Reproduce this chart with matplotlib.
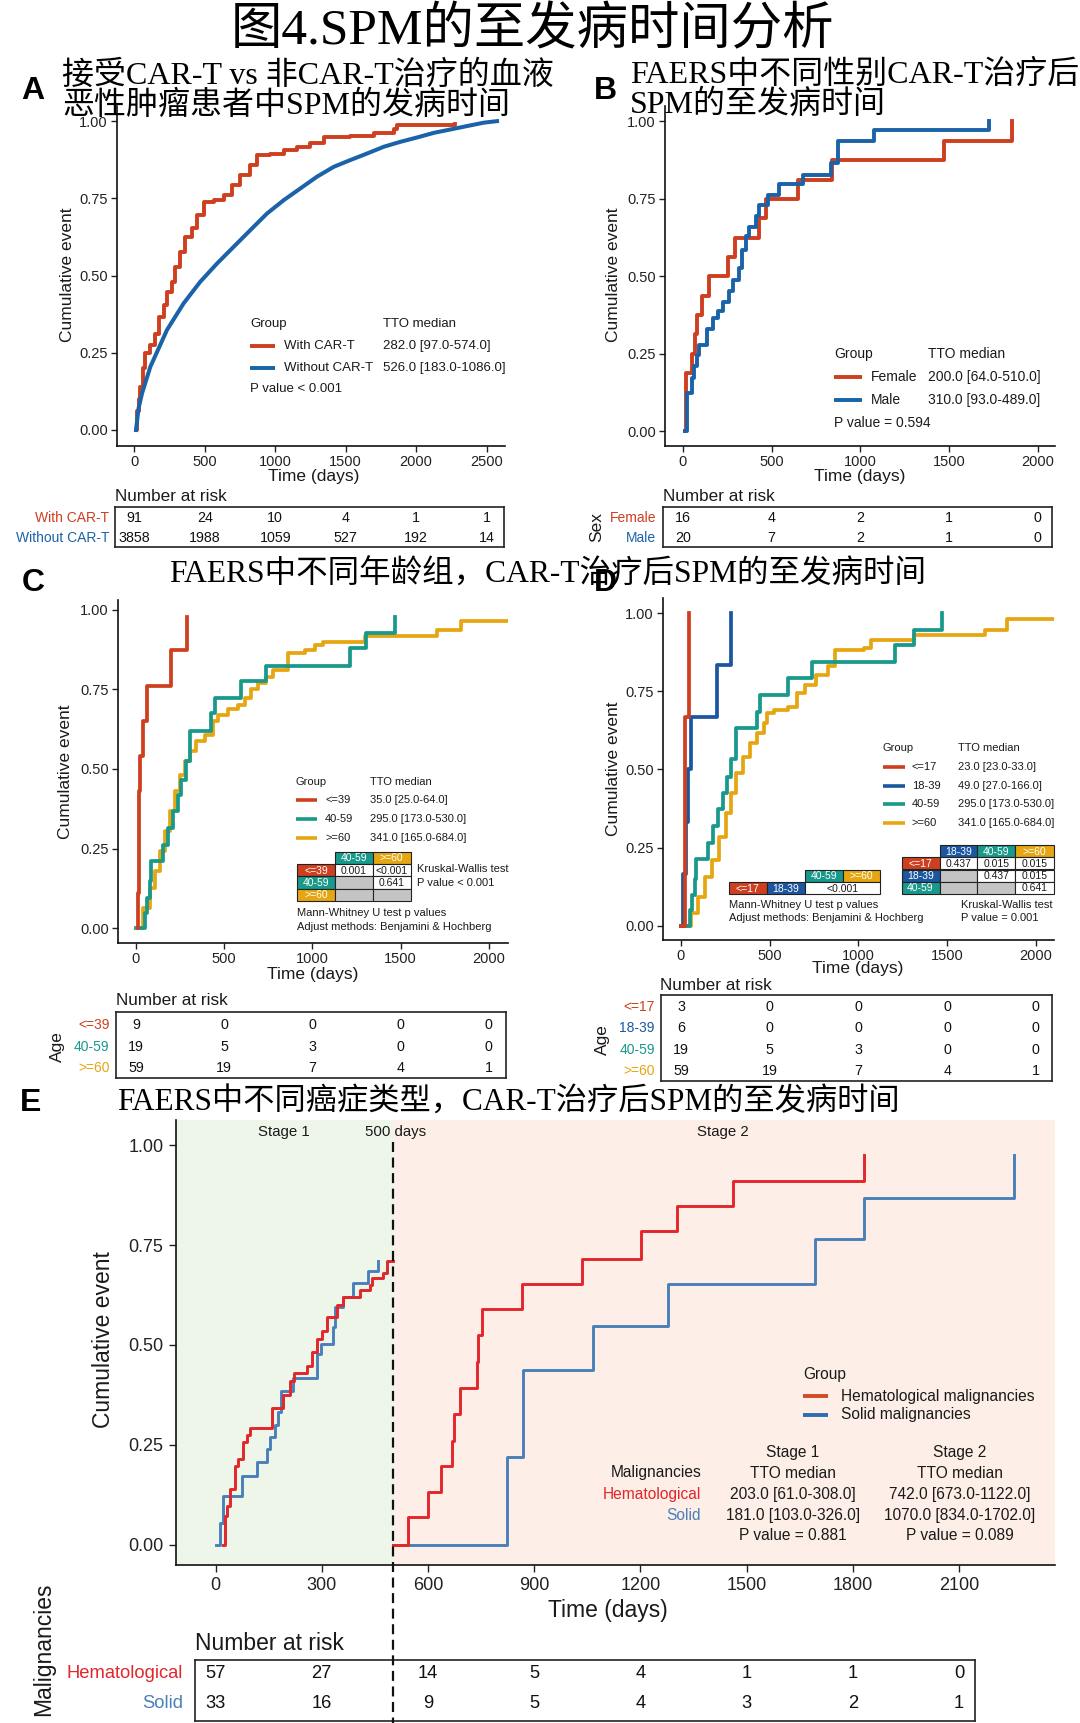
import matplotlib
matplotlib.use('Agg')
import matplotlib.pyplot as plt
from matplotlib.lines import Line2D
from matplotlib.patches import Rectangle
from matplotlib.transforms import blended_transform_factory

plt.rcParams['font.family'] = ['Liberation Sans', 'DejaVu Sans']
plt.rcParams['axes.linewidth'] = 1.2
CJK = ['Liberation Serif', 'Noto Sans CJK SC']

# ======================= DATA =======================
main_title = '图4.SPM的至发病时间分析'
title_a = ['接受CAR-T vs 非CAR-T治疗的血液', '恶性肿瘤患者中SPM的发病时间']
title_b = ['FAERS中不同性别CAR-T治疗后', 'SPM的至发病时间']
title_cd = 'FAERS中不同年龄组，CAR-T治疗后SPM的至发病时间'
title_e = 'FAERS中不同癌症类型，CAR-T治疗后SPM的至发病时间'

yticks = [0, 0.25, 0.5, 0.75, 1.0]

# Panel A
a_car_t = [12, 20, 30, 43, 60, 78, 114, 149, 173, 208, 232, 267, 291, 327, 362, 409, 445, 492, 563,
           634, 693, 752, 823, 871, 965, 1060, 1155, 1249, 1344, 1533, 1699, 1841, 1864, 2278]
a_car_v = [0, 0.06, 0.10, 0.14, 0.20, 0.25, 0.275, 0.31, 0.367, 0.405, 0.448, 0.48, 0.528, 0.577, 0.626,
           0.653, 0.696, 0.739, 0.744, 0.76, 0.793, 0.825, 0.858, 0.89, 0.895, 0.906, 0.917, 0.928,
           0.947, 0.951, 0.962, 0.976, 0.989, 0.99]
a_nocar_t = [12, 30, 55, 114, 232, 350, 468, 587, 705, 823, 942, 1060, 1178, 1296, 1415, 1533, 1651,
             1770, 1888, 2006, 2125, 2243, 2361, 2480, 2574]
a_nocar_v = [0, 0.07, 0.119, 0.205, 0.324, 0.41, 0.48, 0.539, 0.593, 0.647, 0.701, 0.744, 0.782, 0.82,
             0.852, 0.874, 0.895, 0.917, 0.933, 0.947, 0.962, 0.973, 0.984, 0.995, 1.0]
a_groups = ['With CAR-T', 'Without CAR-T']
a_medians = ['282.0 [97.0-574.0]', '526.0 [183.0-1086.0]']
a_pvalue = 'P value < 0.001'
a_xticks = [0, 500, 1000, 1500, 2000, 2500]
a_risk = [[91, 24, 10, 4, 1, 1], [3858, 1988, 1059, 527, 192, 14]]

# Panel B
b_female_t = [10, 15, 49, 69, 78, 108, 147, 255, 294, 431, 470, 647, 843, 1471, 1853]
b_female_v = [0, 0.1875, 0.25, 0.3125, 0.375, 0.4375, 0.5, 0.5625, 0.625, 0.6875, 0.75, 0.8125,
              0.875, 0.9375, 1.0]
b_male_t = [10, 20, 49, 63, 78, 92, 137, 167, 196, 225, 261, 284, 314, 333, 353, 373, 412, 431, 480,
            539, 676, 833, 873, 1078, 1725]
b_male_v = [0, 0.123, 0.17, 0.21, 0.245, 0.279, 0.331, 0.366, 0.389, 0.418, 0.452, 0.487, 0.527,
            0.585, 0.631, 0.66, 0.694, 0.729, 0.764, 0.798, 0.827, 0.867, 0.937, 0.971, 1.0]
b_groups = ['Female', 'Male']
b_medians = ['200.0 [64.0-510.0]', '310.0 [93.0-489.0]']
b_pvalue = 'P value = 0.594'
b_xticks = [0, 500, 1000, 1500, 2000]
b_risk = [[16, 4, 2, 1, 0], [20, 7, 2, 1, 0]]

# Panel C
c_le39_t = [10, 12, 18, 25, 38, 64, 200, 287]
c_le39_v = [0, 0.11, 0.43, 0.54, 0.65, 0.76, 0.875, 0.978]
c_4059_t = [2, 49, 64, 77, 87, 153, 181, 210, 238, 257, 285, 304, 427, 446, 597, 739, 1212, 1306, 1467]
c_4059_v = [0, 0.047, 0.094, 0.147, 0.21, 0.262, 0.314, 0.367, 0.419, 0.466, 0.524, 0.618, 0.676,
            0.723, 0.776, 0.823, 0.88, 0.928, 0.978]
c_ge60_t = [21, 40, 77, 106, 134, 163, 191, 219, 248, 276, 304, 342, 389, 437, 465, 522, 578, 616, 654,
            692, 739, 777, 862, 956, 1013, 1060, 1297, 1707, 1840, 2150]
c_ge60_v = [0, 0.063, 0.126, 0.178, 0.241, 0.304, 0.367, 0.43, 0.482, 0.524, 0.556, 0.587, 0.608, 0.65,
            0.671, 0.687, 0.702, 0.723, 0.75, 0.77, 0.79, 0.812, 0.865, 0.875, 0.89, 0.9, 0.917, 0.938,
            0.964, 0.964]
c_groups = ['<=39', '40-59', '>=60']
c_medians = ['35.0 [25.0-64.0]', '295.0 [173.0-530.0]', '341.0 [165.0-684.0]']
c_kw = ['Kruskal-Wallis test', 'P value < 0.001']
c_mw_cols = ['40-59', '>=60']
c_mw_rows = ['<=39', '40-59', '>=60']
c_mw_vals = [['0.001', '<0.001'], [None, '0.641'], [None, None]]
cd_xticks = [0, 500, 1000, 1500, 2000]
c_risk = [[9, 0, 0, 0, 0], [19, 5, 3, 0, 0], [59, 19, 7, 4, 1]]

# Panel D
d_le17_t = [0, 21, 43]
d_le17_v = [0, 0.667, 1.0]
d_1839_t = [0, 10, 27, 39, 58, 204, 282]
d_1839_v = [0, 0.167, 0.333, 0.5, 0.667, 0.833, 1.0]
d_4059_t = [2, 49, 64, 77, 87, 153, 181, 210, 238, 257, 285, 311, 428, 447, 603, 739, 1206, 1313, 1469]
d_4059_v = [0, 0.05, 0.1, 0.15, 0.213, 0.266, 0.32, 0.373, 0.426, 0.476, 0.532, 0.632, 0.685, 0.739,
            0.792, 0.845, 0.899, 0.947, 1.0]
d_ge60_t = [25, 58, 97, 136, 175, 214, 253, 282, 311, 350, 389, 428, 467, 486, 525, 603, 652, 700, 759,
            827, 866, 1031, 1070, 1313, 1712, 1838, 2150]
d_ge60_v = [0, 0.04, 0.093, 0.157, 0.21, 0.285, 0.36, 0.424, 0.488, 0.541, 0.584, 0.616, 0.648, 0.68,
            0.69, 0.701, 0.744, 0.771, 0.803, 0.83, 0.883, 0.888, 0.915, 0.93, 0.947, 0.981, 0.981]
d_groups = ['<=17', '18-39', '40-59', '>=60']
d_medians = ['23.0 [23.0-33.0]', '49.0 [27.0-166.0]', '295.0 [173.0-530.0]', '341.0 [165.0-684.0]']
d_kw = ['Kruskal-Wallis test', 'P value = 0.001']
d_mw_cols = ['18-39', '40-59', '>=60']
d_mw_rows = ['<=17', '18-39', '40-59']
d_mw_vals = [['0.437', '0.015', '0.015'], [None, '0.437', '0.015'], [None, None, '0.641']]
d_comb_val = '<0.001'
d_risk = [[3, 0, 0, 0, 0], [6, 0, 0, 0, 0], [19, 5, 3, 0, 0], [59, 19, 7, 4, 1]]
mw_note = ['Mann-Whitney U test p values', 'Adjust methods: Benjamini & Hochberg']

# Panel E
e_cut = 500
e_hem1_t = [20, 26, 31, 41, 55, 64, 78, 88, 97, 158, 191, 210, 220, 257, 271, 286, 300, 314, 342, 361,
            408, 436, 441, 474, 485, 500]
e_hem1_v = [0, 0.072, 0.097, 0.139, 0.198, 0.215, 0.257, 0.274, 0.291, 0.342, 0.375, 0.409, 0.43, 0.447,
            0.481, 0.515, 0.536, 0.57, 0.6, 0.62, 0.638, 0.65, 0.667, 0.68, 0.71, 0.71]
e_sol1_t = [2, 13, 22, 74, 116, 144, 153, 167, 177, 186, 219, 285, 299, 332, 337, 361, 389, 431, 459]
e_sol1_v = [0, 0.055, 0.122, 0.173, 0.207, 0.24, 0.27, 0.3, 0.333, 0.384, 0.418, 0.477, 0.502, 0.544,
            0.595, 0.62, 0.654, 0.684, 0.71]
e_hem2_t = [500, 543, 599, 637, 668, 672, 690, 737, 742, 753, 866, 1036, 1202, 1304, 1462, 1831]
e_hem2_v = [0, 0.068, 0.131, 0.198, 0.26, 0.326, 0.392, 0.456, 0.524, 0.589, 0.653, 0.716, 0.785, 0.848,
            0.911, 0.975]
e_sol2_t = [500, 823, 867, 1067, 1278, 1693, 1831, 2255]
e_sol2_v = [0, 0.22, 0.437, 0.547, 0.653, 0.764, 0.868, 0.975]
e_groups = ['Hematological malignancies', 'Solid malignancies']
e_rows = ['Hematological', 'Solid']
e_stage1 = ['203.0 [61.0-308.0]', '181.0 [103.0-326.0]', 'P value = 0.881']
e_stage2 = ['742.0 [673.0-1122.0]', '1070.0 [834.0-1702.0]', 'P value = 0.089']
e_xticks = [0, 300, 600, 900, 1200, 1500, 1800, 2100]
e_risk = [[57, 27, 14, 5, 4, 1, 1, 0], [33, 16, 9, 5, 4, 3, 2, 1]]

# ======================= STYLE =======================
RED = '#CD3F1E'
BLUE = '#1B63A8'
TEAL = '#18998A'
YEL = '#E6A612'
DBLUE = '#1C56A0'
ERED = '#E2262B'
EBLUE = '#4A80BA'
GREEN_BG = '#EEF6EA'
SALMON_BG = '#FDEFE7'
TXT = '#1a1a1a'

W, H = 1080, 1723
fig = plt.figure(figsize=(W / 100, H / 100), dpi=100)
fig.patch.set_facecolor('white')


def fx(x):
    return x / W


def fy(y):
    return 1 - y / H


def add_ax(x0, y0, x1, y1):
    return fig.add_axes([fx(x0), fy(y1), (x1 - x0) / W, (y1 - y0) / H])


def T(x, y, s, size, ha='left', va='center', color=TXT, **kw):
    return fig.text(fx(x), fy(y), s, fontsize=size, ha=ha, va=va, color=color, **kw)


def key_line(x0, x1, y, color, lw=2.8):
    fig.add_artist(Line2D([fx(x0), fx(x1)], [fy(y), fy(y)], color=color, lw=lw,
                          transform=fig.transFigure, solid_capstyle='butt'))


def cell(x0, y0, x1, y1, fc, text='', tc='white', fs=7.5):
    fig.add_artist(Rectangle((fx(x0), fy(y1)), (x1 - x0) / W, (y1 - y0) / H,
                             transform=fig.transFigure, facecolor=fc, edgecolor='#222222', lw=0.8))
    if text:
        T((x0 + x1) / 2, (y0 + y1) / 2 + 0.5, text, fs, ha='center', color=tc)


def make_axes(box, xlim, ylim, xticks, fs, tick_len=4, pad=2.5):
    ax = add_ax(*box)
    ax.set_xlim(xlim)
    ax.set_ylim(ylim)
    ax.set_xticks(xticks)
    ax.set_xticklabels([str(t) for t in xticks])
    ax.set_yticks(yticks)
    ax.set_yticklabels([f'{v:.2f}' for v in yticks])
    ax.spines['top'].set_visible(False)
    ax.spines['right'].set_visible(False)
    for s in ('left', 'bottom'):
        ax.spines[s].set_color('#111111')
    ax.tick_params(length=tick_len, width=1.0, labelsize=fs, pad=pad, labelcolor='#222222',
                   color='#222222')
    ax.patch.set_visible(False)
    return ax


def risk_table(box, xlim, ticks, rows, row_ys, fs):
    ax = add_ax(*box)
    ax.set_xlim(xlim)
    ax.set_ylim(box[3], box[1])
    ax.set_xticks([])
    ax.set_yticks([])
    for s in ax.spines.values():
        s.set_linewidth(1.2)
        s.set_color('#222222')
    for vals, y in zip(rows, row_ys):
        for t, n in zip(ticks, vals):
            ax.text(t, y, str(n), ha='center', va='center', fontsize=fs, color='#111111')
    ax.patch.set_visible(False)
    return ax


# ======================= TITLES =======================
T(532, 31, main_title, 37, ha='center', family=CJK, color='black')
for i, line in enumerate(title_a):
    T(62, 76 + 30 * i, line, 23, family=CJK, color='black')
for i, line in enumerate(title_b):
    T(630, 75 + 30 * i, line, 23, family=CJK, color='black')
T(548, 575, title_cd, 22.7, ha='center', family=CJK, color='black')
T(117, 1103, title_e, 22.5, ha='left', family=CJK, color='black')
for lab, (x, y) in zip('ABCDE', [(33, 91), (605, 91), (33, 583), (605, 583), (31, 1103)]):
    T(x, y, lab, 23, ha='center', weight='bold', color='black')

# ======================= PANEL A =======================
axA = make_axes((117, 106, 504.5, 446), (-123, 2627), (-0.052, 1.049), a_xticks, 10.5)
axA.step(a_car_t, a_car_v, where='post', color=RED, lw=2.8)
axA.plot(a_nocar_t, a_nocar_v, color=BLUE, lw=2.9)
T(67, 275, 'Cumulative event', 12.5, ha='center', rotation=90)
T(314, 477, 'Time (days)', 12.5, ha='center')
T(250, 324, 'Group', 9.5)
T(383, 324, 'TTO median', 9.5)
for i, (g, m, c) in enumerate(zip(a_groups, a_medians, [RED, BLUE])):
    y = 346 + 22 * i
    key_line(250, 275, y, c)
    T(284, y, g, 9.5)
    T(383, y, m, 9.5)
T(250, 389, a_pvalue, 9.5)
T(115, 496, 'Number at risk', 12.3)
risk_table((115, 507, 504, 547), (-137, 2624), a_xticks, a_risk, [518, 538], 10.3)
for g, c, y in zip(a_groups, [RED, BLUE], [518, 538]):
    T(109.5, y, g, 10, ha='right', color=c)

# ======================= PANEL B =======================
axB = make_axes((664.7, 106, 1054.8, 446), (-103, 2097), (-0.048, 1.05), b_xticks, 10.5)
axB.step(b_female_t, b_female_v, where='post', color=RED, lw=2.8)
axB.step(b_male_t, b_male_v, where='post', color=BLUE, lw=2.8)
T(614, 275, 'Cumulative event', 12.5, ha='center', rotation=90)
T(860, 477, 'Time (days)', 12.5, ha='center')
T(834, 354, 'Group', 10)
T(928, 354, 'TTO median', 10)
for i, (g, m, c) in enumerate(zip(b_groups, b_medians, [RED, BLUE])):
    y = 377 + 23 * i
    key_line(834, 862, y, c)
    T(871, y, g, 10)
    T(928, y, m, 10)
T(834, 423, b_pvalue, 10)
T(663, 496, 'Number at risk', 12.3)
risk_table((663, 507, 1052, 547), (-113, 2082), b_xticks, b_risk, [518, 538], 10.3)
for g, c, y in zip(b_groups, [RED, BLUE], [518, 538]):
    T(656, y, g, 10, ha='right', color=c)
T(597, 527, 'Sex', 12.5, ha='center', rotation=90)

# ======================= PANEL C =======================
axC = make_axes((118, 600, 508, 943), (-102, 2109), (-0.047, 1.031), cd_xticks, 10.5)
axC.step(c_ge60_t, c_ge60_v, where='post', color=YEL, lw=2.7)
axC.step(c_4059_t, c_4059_v, where='post', color=TEAL, lw=2.7)
axC.step(c_le39_t, c_le39_v, where='post', color=RED, lw=2.7)
T(65, 772, 'Cumulative event', 12.5, ha='center', rotation=90)
T(313, 975, 'Time (days)', 12.5, ha='center')
T(296, 782, 'Group', 8)
T(370, 782, 'TTO median', 8)
for i, (g, m, c) in enumerate(zip(c_groups, c_medians, [RED, TEAL, YEL])):
    y = 800 + 19 * i
    key_line(296, 317.5, y, c, lw=2.6)
    T(325, y, g, 8)
    T(370, y, m, 8)
# pairwise matrix
c_colx = [297, 335, 372.6, 410.5]
c_rowy = [851.6, 863.9, 876.2, 888.5, 900.8]
c_col_colors = {'<=39': RED, '40-59': TEAL, '>=60': YEL}
for j, name in enumerate(c_mw_cols):
    cell(c_colx[j + 1], c_rowy[0], c_colx[j + 2], c_rowy[1], c_col_colors[name], name)
for i, name in enumerate(c_mw_rows):
    cell(c_colx[0], c_rowy[i + 1], c_colx[1], c_rowy[i + 2], c_col_colors[name], name)
    for j, val in enumerate(c_mw_vals[i]):
        if val is None:
            cell(c_colx[j + 1], c_rowy[i + 1], c_colx[j + 2], c_rowy[i + 2], '#C4C4C4')
        else:
            cell(c_colx[j + 1], c_rowy[i + 1], c_colx[j + 2], c_rowy[i + 2], 'white', val, tc=TXT)
T(417, 869, c_kw[0], 8)
T(417, 883, c_kw[1], 8)
T(297, 913, mw_note[0], 8)
T(297, 927, mw_note[1], 8)
T(116, 1001, 'Number at risk', 12.3)
risk_table((116, 1012, 505.5, 1078), (-113, 2094), cd_xticks, c_risk, [1025, 1047, 1068], 10.3)
for g, c, y in zip(c_groups, [RED, TEAL, YEL], [1025, 1047, 1068]):
    T(109.5, y, g, 10, ha='right', color=c)
T(57, 1047, 'Age', 12.5, ha='center', rotation=90)

# ======================= PANEL D =======================
axD = make_axes((663, 598, 1053.8, 940), (-101, 2102), (-0.045, 1.048), cd_xticks, 10.5)
axD.step(d_ge60_t, d_ge60_v, where='post', color=YEL, lw=2.7)
axD.step(d_4059_t, d_4059_v, where='post', color=TEAL, lw=2.7)
axD.step(d_1839_t, d_1839_v, where='post', color=DBLUE, lw=2.7)
axD.step(d_le17_t, d_le17_v, where='post', color=RED, lw=2.7)
T(614, 769, 'Cumulative event', 12.5, ha='center', rotation=90)
T(858, 968, 'Time (days)', 12.5, ha='center')
T(883, 748, 'Group', 8)
T(958, 748, 'TTO median', 8)
d_cols = {'<=17': RED, '18-39': DBLUE, '40-59': TEAL, '>=60': YEL}
for i, (g, m) in enumerate(zip(d_groups, d_medians)):
    y = 767 + 18.7 * i
    key_line(883, 905, y, d_cols[g], lw=2.6)
    T(912, y, g, 8)
    T(958, y, m, 8)
# combined comparison table
cell(805, 870, 843, 882, TEAL, '40-59')
cell(843, 870, 880, 882, YEL, '>=60')
cell(729, 882, 766.6, 894, RED, '<=17')
cell(766.6, 882, 805, 894, DBLUE, '18-39')
cell(805, 882, 880, 894, 'white', d_comb_val, tc=TXT)
# pairwise matrix
d_colx = [901.6, 939.5, 977.3, 1015.2, 1053.8]
d_rowy = [845, 857.2, 869.5, 881.8, 894]
for j, name in enumerate(d_mw_cols):
    cell(d_colx[j + 1], d_rowy[0], d_colx[j + 2], d_rowy[1], d_cols[name], name)
for i, name in enumerate(d_mw_rows):
    cell(d_colx[0], d_rowy[i + 1], d_colx[1], d_rowy[i + 2], d_cols[name], name)
    for j, val in enumerate(d_mw_vals[i]):
        if val is None:
            cell(d_colx[j + 1], d_rowy[i + 1], d_colx[j + 2], d_rowy[i + 2], '#C4C4C4')
        else:
            cell(d_colx[j + 1], d_rowy[i + 1], d_colx[j + 2], d_rowy[i + 2], 'white', val, tc=TXT)
T(729, 905, mw_note[0], 8)
T(729, 918, mw_note[1], 8)
T(961, 905, d_kw[0], 8)
T(961, 918, d_kw[1], 8)
T(660.5, 985, 'Number at risk', 12.3)
risk_table((660.5, 995, 1052, 1081), (-116, 2091), cd_xticks, d_risk, [1007, 1028, 1050, 1071], 10.3)
for g, y in zip(d_groups, [1007, 1028, 1050, 1071]):
    T(654.7, y, g, 10, ha='right', color=d_cols[g])
T(602, 1040, 'Age', 12.5, ha='center', rotation=90)

# ======================= PANEL E =======================
e_xlim = (-112, 2371)
axE = make_axes((176, 1120, 1055, 1565), e_xlim, (-0.051, 1.063), e_xticks, 13, tick_len=5, pad=4)
axE.axvspan(e_xlim[0], e_cut, color=GREEN_BG, zorder=0, lw=0)
axE.axvspan(e_cut, e_xlim[1], color=SALMON_BG, zorder=0, lw=0)
axE.step(e_sol1_t, e_sol1_v, where='post', color=EBLUE, lw=2.1)
axE.step(e_hem1_t, e_hem1_v, where='post', color=ERED, lw=2.1)
axE.step(e_sol2_t, e_sol2_v, where='post', color=EBLUE, lw=2.1)
axE.step(e_hem2_t, e_hem2_v, where='post', color=ERED, lw=2.1)
trE = blended_transform_factory(axE.transData, fig.transFigure)
fig.add_artist(Line2D([e_cut, e_cut], [fy(1142), fy(1723)], transform=trE, color='#111111',
                      lw=1.6, dashes=(4.5, 2.5), zorder=5))
T(284, 1132, 'Stage 1', 10.8, ha='center')
T(396, 1132, f'{e_cut} days', 10.8, ha='center')
T(723, 1132, 'Stage 2', 10.8, ha='center')
T(103, 1340, 'Cumulative event', 16.5, ha='center', rotation=90)
T(608, 1610, 'Time (days)', 16.5, ha='center')
T(803, 1375, 'Group', 11.2)
for i, (g, c) in enumerate(zip(e_groups, ['#D24B27', '#2F6DAE'])):
    y = 1396 + 19 * i
    key_line(803, 828, y, c, lw=2.8)
    T(841, y, g, 11.2)
T(793, 1452, 'Stage 1', 11.2, ha='center')
T(793, 1473, 'TTO median', 11.2, ha='center')
T(960, 1452, 'Stage 2', 11.2, ha='center')
T(960, 1473, 'TTO median', 11.2, ha='center')
T(701, 1473, 'Malignancies', 11.2, ha='right')
for i, (r, c) in enumerate(zip(e_rows, [ERED, EBLUE])):
    y = 1495 + 20.5 * i
    T(701, y, r, 11.2, ha='right', color=c)
    T(793, y, e_stage1[i], 11.2, ha='center')
    T(960, y, e_stage2[i], 11.2, ha='center')
T(793, 1536, e_stage1[2], 11.2, ha='center')
T(960, 1536, e_stage2[2], 11.2, ha='center')
T(195, 1643, 'Number at risk', 16.5)
risk_table((195, 1660, 975, 1721), (-58, 2145), e_xticks, e_risk, [1674, 1704], 13.2)
for r, c, y in zip(e_rows, [ERED, EBLUE], [1674, 1704]):
    T(183, y, r, 13.2, ha='right', color=c)
T(44, 1649, 'Malignancies', 16.5, ha='center', rotation=90)

fig.savefig('out.png', dpi=100, facecolor='white')
